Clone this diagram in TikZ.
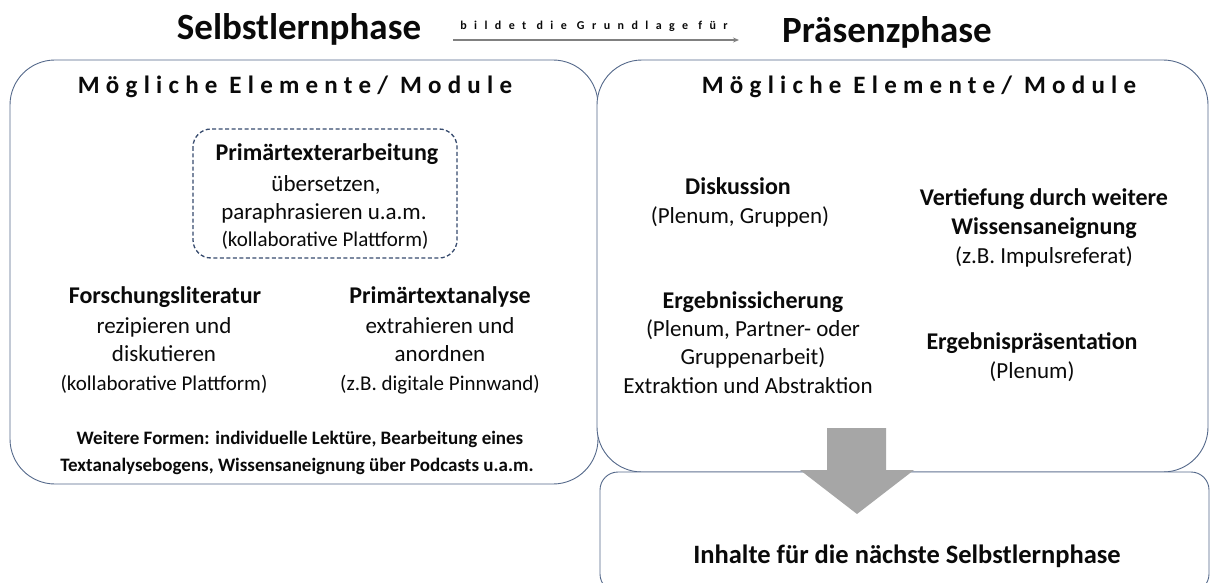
\documentclass[tikz,border=0pt]{standalone}
\usepackage{fontspec}
\setmainfont{Carlito}
\newfontfamily\spaced[LetterSpace=25]{Carlito}
\newfontfamily\spacedsmall[LetterSpace=62]{Carlito}
\usetikzlibrary{arrows.meta}
\definecolor{boxline}{RGB}{84,104,138}
\definecolor{dashline}{RGB}{55,75,110}
\definecolor{arrowgray}{RGB}{166,166,166}
\definecolor{linegray}{RGB}{128,128,128}
\definecolor{txt}{RGB}{10,10,10}
\begin{document}
\begin{tikzpicture}[x=1pt,y=-1pt,
  panel/.style={draw=boxline, line width=0.9pt, fill=white},
  base/.style={inner sep=0pt, text=txt, text height=0.7em, text depth=0.2em},
  title/.style={base, font=\fontsize{37}{42}\selectfont\bfseries},
  sub/.style={base, font=\fontsize{25}{28}\spaced\bfseries},
  hd/.style={base, font=\fontsize{24}{28}\selectfont\bfseries},
  tx/.style={base, font=\fontsize{23}{27}\selectfont},
  sm/.style={base, font=\fontsize{21}{25}\selectfont},
  ws/.style={base, font=\fontsize{19}{22}\selectfont\bfseries},
  bigarrow/.style={fill=arrowgray, draw=none}
]
\useasboundingbox (0,0) rectangle (1210,583);
\clip (0,0) rectangle (1210,583);

% panels
\draw[panel, rounded corners=45pt] (10,60) rectangle (598,484);
\draw[panel, rounded corners=45pt] (597,60) rectangle (1208,472);
\draw[panel, rounded corners=18pt] (600,472) rectangle (1209,592);
\draw[dashline, line width=1.3pt, dash pattern=on 4pt off 2.5pt, rounded corners=18pt] (193,129) rectangle (457,258);

% connector under the header label
\coordinate (ga) at (453,40);
\coordinate (gb) at (739,40);
\draw[linegray, line width=1.2pt, -{Stealth[length=6pt,width=5pt]}] (ga) -- (gb);

% big arrow
\fill[bigarrow] (827,428) -- (886,428) -- (886,470) -- (914,470) -- (857,514) -- (800,470) -- (827,470) -- cycle;

\begin{scope}[yshift=-4pt]
% header
\node[title] (selbst) at (299,33) {Selbstlernphase};
\node[title] (praesenz) at (887,36) {Präsenzphase};
\node[base, font=\fontsize{12}{14}\spacedsmall\bfseries] (grund) at (594,23) {bildet die Grundlage für};

% left panel
\node[sub] (subL) at (295,87) {Mögliche Elemente/ Module};
\node[hd] (pa1) at (327,154) {Primärtexterarbeitung};
\node[tx] (pa2) at (326,185) {übersetzen,};
\node[tx] (pa3) at (324,213) {paraphrasieren u.a.m.};
\node[sm] (pa4) at (325,240) {(kollaborative Plattform)};

\node[hd] (fl1) at (165,297) {Forschungsliteratur};
\node[tx] (fl2) at (164,327) {rezipieren und};
\node[tx] (fl3) at (164,355) {diskutieren};
\node[sm] (fl4) at (164,384) {(kollaborative Plattform)};

\node[hd] (an1) at (440,297) {Primärtextanalyse};
\node[tx] (an2) at (440,327) {extrahieren und};
\node[tx] (an3) at (440,355) {anordnen};
\node[sm] (an4) at (440,384) {(z.B. digitale Pinnwand)};

\node[ws] (wf1) at (300,438) {Weitere Formen: individuelle Lektüre, Bearbeitung eines};
\node[ws] (wf2) at (297,465) {Textanalysebogens, Wissensaneignung über Podcasts u.a.m.};

% right panel
\node[sub] (subR) at (919,87) {Mögliche Elemente/ Module};
\node[hd] (d1) at (738,188) {Diskussion};
\node[tx] (d2) at (740,217) {(Plenum, Gruppen)};
\node[hd] (v1) at (1044,199) {Vertiefung durch weitere};
\node[hd] (v2) at (1044,228) {Wissensaneignung};
\node[tx] (v3) at (1044,257) {(z.B. Impulsreferat)};
\node[hd] (e1) at (753,302) {Ergebnissicherung};
\node[tx] (e2) at (753,330) {(Plenum, Partner- oder};
\node[tx] (e3) at (753,358) {Gruppenarbeit)};
\node[tx] (e4) at (748,387) {Extraktion und Abstraktion};
\node[hd] (p1) at (1032,343) {Ergebnispräsentation};
\node[tx] (p2) at (1032,372) {(Plenum)};

% bottom
\node[base, font=\fontsize{26.5}{30}\selectfont\bfseries] (inh) at (907,557) {Inhalte für die nächste Selbstlernphase};
\end{scope}
\end{tikzpicture}
\end{document}
